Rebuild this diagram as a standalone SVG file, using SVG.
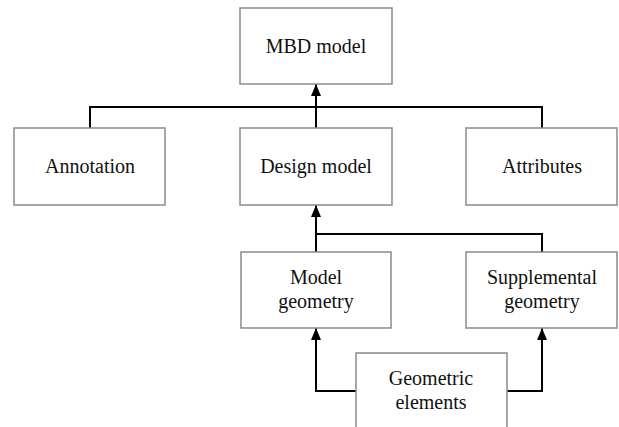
<svg xmlns="http://www.w3.org/2000/svg" width="619" height="427" viewBox="0 0 619 427">
<style>
.box{fill:#fff;stroke:#8a8a8a;stroke-width:1.5}
.t{font-family:"Liberation Serif","Times New Roman",serif;font-size:20px;fill:#111;text-anchor:middle}
.c{fill:none;stroke:#000;stroke-width:2}
</style>
<defs>
<marker id="ah" viewBox="0 0 12 10" refX="12" refY="5" markerWidth="12" markerHeight="10" markerUnits="userSpaceOnUse" orient="auto">
<path d="M0,0 L12,5 L0,10 z" fill="#000"/>
</marker>
</defs>
<rect width="619" height="427" fill="#fff"/>
<g id="connectors">
<path class="c" d="M90,128 V107 H542 V128"/>
<path class="c" d="M316,128 V84" marker-end="url(#ah)"/>
<path class="c" d="M542,252 V234 H316"/>
<path class="c" d="M316,252 V205" marker-end="url(#ah)"/>
<path class="c" d="M356,391 H316 V328" marker-end="url(#ah)"/>
<path class="c" d="M507,391 H542 V328" marker-end="url(#ah)"/>
</g>
<g id="mbd"><rect class="box" x="240" y="8" width="152" height="76"/><text class="t" x="316" y="53">MBD model</text></g>
<g id="annotation"><rect class="box" x="14" y="128" width="151" height="77"/><text class="t" x="90" y="173">Annotation</text></g>
<g id="design"><rect class="box" x="240" y="128" width="152" height="77"/><text class="t" x="316" y="173">Design model</text></g>
<g id="attributes"><rect class="box" x="466" y="128" width="151" height="77"/><text class="t" x="542" y="173">Attributes</text></g>
<g id="modelgeom"><rect class="box" x="241" y="252" width="150" height="76"/><text class="t" x="316" y="284">Model</text><text class="t" x="316" y="308">geometry</text></g>
<g id="supgeom"><rect class="box" x="466" y="252" width="151" height="76"/><text class="t" x="542" y="284">Supplemental</text><text class="t" x="542" y="308">geometry</text></g>
<g id="geomel"><rect class="box" x="356" y="353" width="151" height="80"/><text class="t" x="431" y="385">Geometric</text><text class="t" x="431" y="409">elements</text></g>
</svg>
